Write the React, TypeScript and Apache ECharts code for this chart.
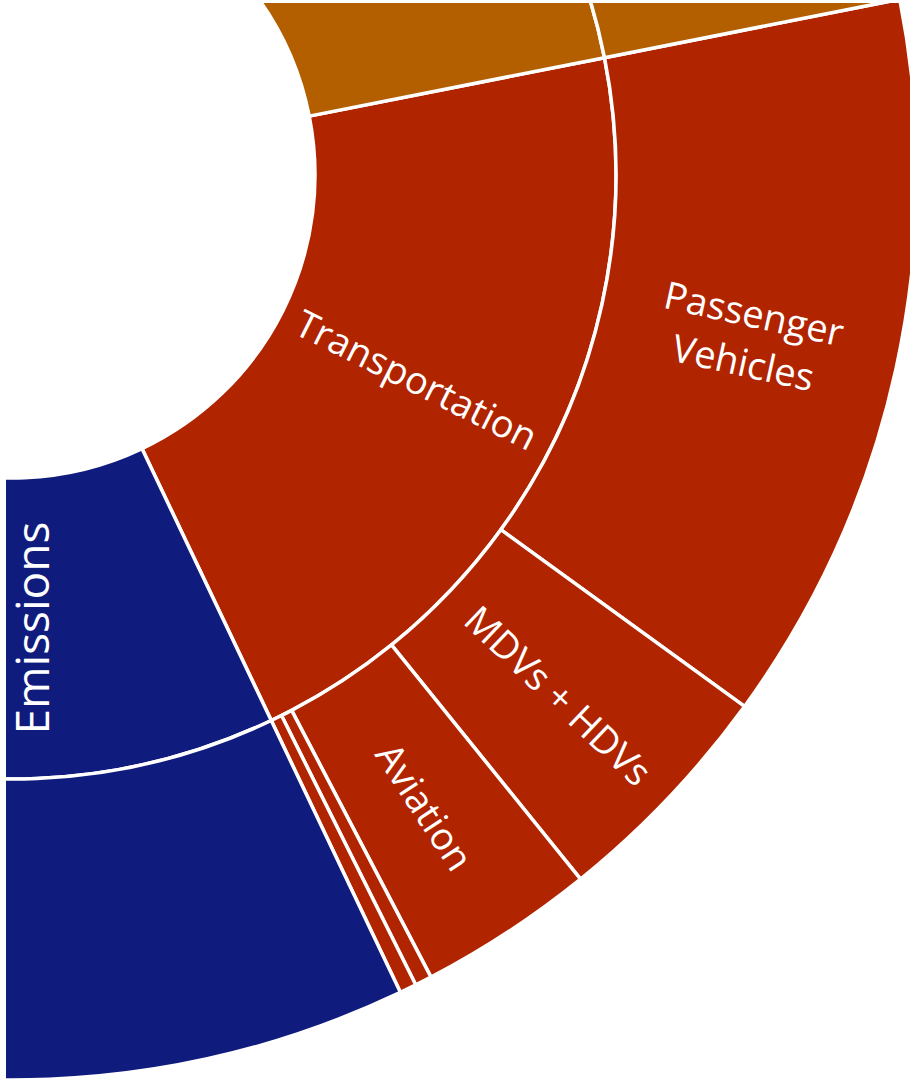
import React, { useEffect, useRef } from "react";
import * as echarts from "echarts";

// Inner ring (sectors) and outer ring (transport modes), values in % of total
const sectorNames = ["Transportation", "Emissions", "Other Sectors"];
const sectorValues = [21.05, 12.8, 66.15];
const modeNames = ["Passenger\nVehicles", "MDVs + HDVs", "Aviation", "Rail", "Shipping"];
const modeValues = [13.1, 4.2, 3.15, 0.3, 0.3];
const shownModeLabels = [true, true, true, false, false];

const RED = "#B12400";
const BLUE = "#101B7E";
const BROWN = "#B35F00";

export default function App() {
  const ref = useRef<HTMLDivElement>(null);
  useEffect(() => {
    if (!ref.current) return;
    const chart = echarts.init(ref.current, undefined, { renderer: "svg" });
    const labelBase = {
      color: "#ffffff",
      fontFamily: "Open Sans",
      fontSize: 38,
      lineHeight: 50,
    };
    const data = [
      {
        name: sectorNames[0],
        itemStyle: { color: RED },
        label: { rotate: "radial" },
        children: modeNames.map((n, i) => ({
          name: n,
          value: modeValues[i],
          itemStyle: { color: RED },
          label: shownModeLabels[i] ? { rotate: "radial" } : { show: false },
        })),
      },
      {
        name: sectorNames[1],
        value: sectorValues[1],
        itemStyle: { color: BLUE },
        label: { rotate: 90, fontSize: 46, lineHeight: 56 },
        children: [
          { name: sectorNames[1], value: sectorValues[1], itemStyle: { color: BLUE }, label: { show: false } },
        ],
      },
      {
        name: sectorNames[2],
        value: sectorValues[2],
        itemStyle: { color: BROWN },
        label: { show: false },
        children: [
          { name: sectorNames[2], value: sectorValues[2], itemStyle: { color: BROWN }, label: { show: false } },
        ],
      },
    ];
    chart.setOption({
      animation: false,
      backgroundColor: "#ffffff",
      series: [
        {
          type: "sunburst",
          center: [12, 175],
          radius: [303, 905],
          startAngle: 11.2,
          sort: null,
          nodeClick: false,
          emphasis: { focus: "none" },
          itemStyle: { borderColor: "#ffffff", borderWidth: 3.5 },
          label: { ...labelBase, rotate: "radial", align: "center" },
          levels: [
            {},
            { r0: 303, r: 604, label: labelBase },
            { r0: 604, r: 905, label: labelBase },
          ],
          data,
        },
      ],
      graphic: [
        { type: "rect", shape: { x: 0, y: 0, width: 6, height: 1082 }, style: { fill: "#ffffff" }, z: 100 },
        { type: "rect", shape: { x: 0, y: 0, width: 910, height: 3 }, style: { fill: "#ffffff" }, z: 100 },
      ],
    });
    return () => chart.dispose();
  }, []);
  return (
    <div
      ref={ref}
      style={{ position: "fixed", left: 0, top: 0, width: 910, height: 1082, background: "#fff" }}
    />
  );
}
